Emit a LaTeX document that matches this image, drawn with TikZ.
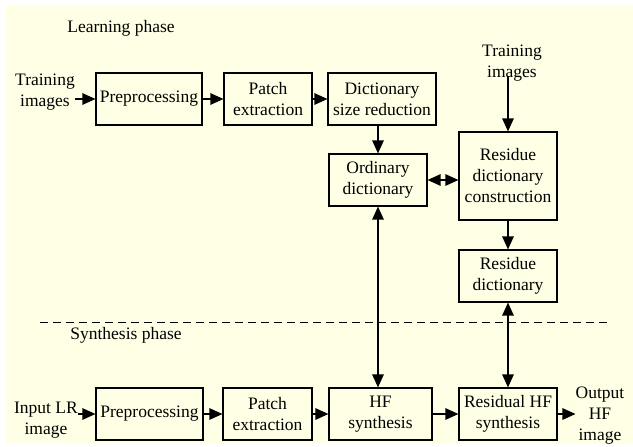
\documentclass[tikz,border=0pt]{standalone}
\usepackage{fontspec}
\setmainfont{Liberation Serif}
\usetikzlibrary{arrows.meta,calc}
\definecolor{bgc}{HTML}{FFFFE6}
\begin{document}
\begin{tikzpicture}[x=1pt,y=-1pt,
  every node/.style={font=\rmfamily\fontsize{17.5}{21}\selectfont, inner sep=0pt, align=center},
  box/.style={draw, line width=1.2pt, minimum height=52pt},
  arr/.style={line width=1.3pt, -{Triangle[length=13pt,width=11.5pt]}},
  darr/.style={line width=1.3pt, {Triangle[length=13pt,width=11.5pt]}-{Triangle[length=13pt,width=11.5pt]}}]
\useasboundingbox (0,0) rectangle (633,447);
\fill[bgc] (6,5) rectangle (633,444);
% texts
\node (lp) at (121,28) {Learning phase};
\node (sp) at (126,335) {Synthesis phase};
\node (t1) at (45,92) {Training\\images};
\node (t2) at (512,63) {Training\\images};
\node (in) at (46,420) {Input LR\\image};
\node (out) at (600,416) {Output\\HF\\image};
% boxes
\node[box, minimum width=106pt] (pre1) at (149,99) {Preprocessing};
\node[box, minimum width=88pt] (pa1) at (268,99) {Patch\\extraction};
\node[box, minimum width=108pt] (dsr) at (382,99) {Dictionary\\size reduction};
\node[box, minimum width=98pt] (ord) at (378,180) {Ordinary\\dictionary};
\node[box, minimum width=98pt, minimum height=88pt] (rdc) at (508,176) {Residue\\dictionary\\construction};
\node[box, minimum width=98pt] (rd) at (508,276) {Residue\\dictionary};
\node[box, minimum width=107pt] (pre2) at (149.5,414) {Preprocessing};
\node[box, minimum width=89pt] (pa2) at (267.5,414) {Patch\\extraction};
\node[box, minimum width=103pt] (hf) at (380.5,414) {HF\\synthesis};
\node[box, minimum width=98pt] (rhf) at (508,414) {Residual HF\\synthesis};
% dashed separator
\coordinate (dl) at (40,322);
\coordinate (dr) at (610,322);
\draw[line width=1pt, dash pattern=on 8pt off 5pt] (dl) -- (dr);
% connectors
\draw[arr] (t1.east |- pre1.west) -- (pre1.west);
\draw[arr] (pre1) -- (pa1);
\draw[arr] (pa1) -- (dsr);
\draw[arr] (dsr.south -| ord.north) -- (ord.north);
\draw[darr] (ord.east) -- (ord.east -| rdc.west);
\draw[arr] ([yshift=5pt]t2.south -| rdc.north) -- (rdc.north);
\draw[arr] (rdc) -- (rd);
\draw[darr] (ord.south) -- (ord.south |- hf.north);
\draw[darr] (rd) -- (rhf);
\draw[arr] (in.east |- pre2.west) -- (pre2.west);
\draw[arr] (pre2) -- (pa2);
\draw[arr] (pa2) -- (hf);
\draw[arr] (hf) -- (rhf);
\draw[arr] (rhf.east) -- (rhf.east -| out.west);
\end{tikzpicture}
\end{document}
